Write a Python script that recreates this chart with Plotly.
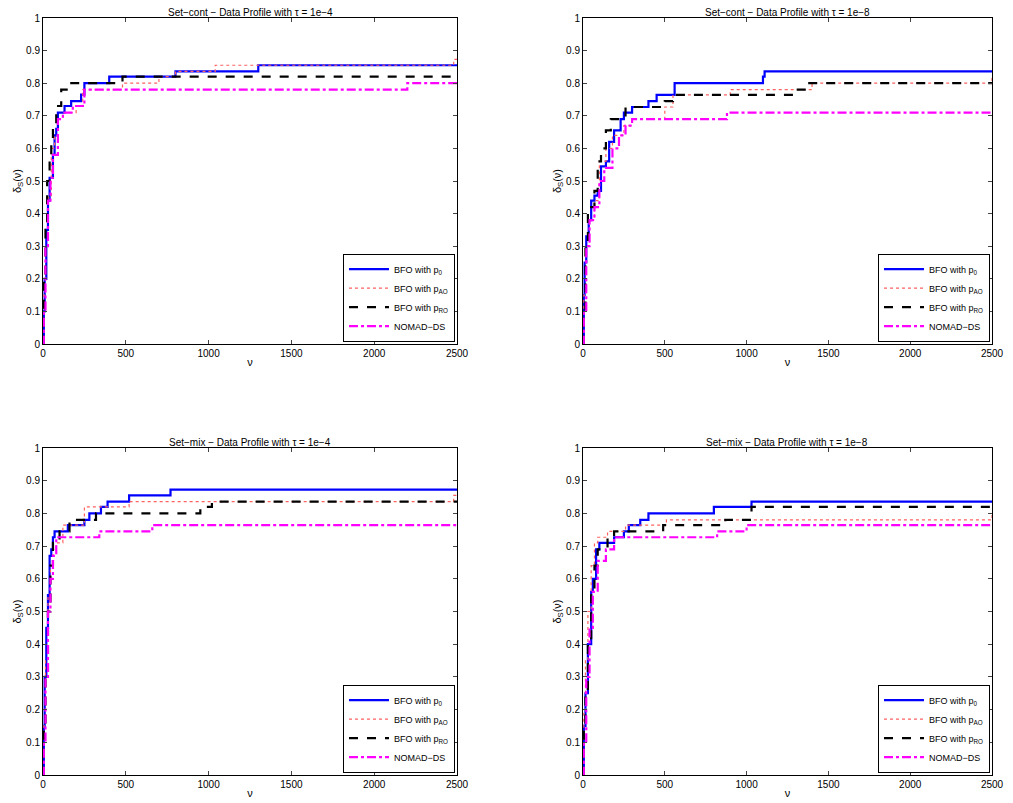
import plotly.graph_objects as go

# data profiles (x = budget nu, y = fraction solved)
cont4_p0_x = [0, 5, 10, 20, 30, 40, 50, 60, 70, 80, 90, 100, 130, 170, 200, 230, 250, 400, 800, 1300, 2500]
cont4_p0_y = [0, 0.1, 0.2, 0.35, 0.44, 0.51, 0.51, 0.58, 0.64, 0.66, 0.71, 0.71, 0.73, 0.745, 0.745, 0.765, 0.8, 0.82, 0.836, 0.855, 0.855]
cont4_pao_x = [0, 5, 15, 30, 50, 70, 90, 120, 200, 240, 480, 700, 800, 1040, 2480, 2500]
cont4_pao_y = [0, 0.15, 0.3, 0.45, 0.6, 0.64, 0.69, 0.71, 0.73, 0.78, 0.8, 0.82, 0.836, 0.855, 0.873, 0.873]
cont4_pro_x = [0, 5, 15, 25, 40, 50, 60, 80, 100, 110, 160, 480, 2500]
cont4_pro_y = [0, 0.2, 0.35, 0.5, 0.58, 0.62, 0.67, 0.73, 0.73, 0.78, 0.8, 0.82, 0.82]
cont4_nom_x = [0, 5, 15, 30, 45, 60, 90, 120, 180, 250, 2200, 2500]
cont4_nom_y = [0, 0.1, 0.3, 0.44, 0.51, 0.58, 0.69, 0.71, 0.73, 0.78, 0.8, 0.8]

cont8_p0_x = [0, 5, 10, 20, 35, 50, 70, 90, 110, 140, 160, 190, 230, 250, 300, 400, 450, 560, 1100, 1110, 2500]
cont8_p0_y = [0, 0.15, 0.25, 0.33, 0.38, 0.44, 0.455, 0.47, 0.545, 0.56, 0.62, 0.655, 0.69, 0.71, 0.727, 0.745, 0.764, 0.8, 0.82, 0.836, 0.836]
cont8_pao_x = [0, 5, 20, 40, 70, 100, 140, 180, 250, 300, 500, 550, 900, 1400, 2500]
cont8_pao_y = [0, 0.15, 0.3, 0.38, 0.44, 0.56, 0.6, 0.64, 0.67, 0.69, 0.727, 0.764, 0.78, 0.8, 0.82]
cont8_pro_x = [0, 5, 15, 30, 50, 70, 90, 110, 140, 170, 260, 500, 550, 1300, 1370, 2500]
cont8_pro_y = [0, 0.1, 0.3, 0.4, 0.42, 0.47, 0.56, 0.6, 0.655, 0.69, 0.727, 0.745, 0.764, 0.78, 0.8, 0.8]
cont8_nom_x = [0, 5, 20, 40, 70, 100, 130, 180, 220, 260, 300, 880, 2500]
cont8_nom_y = [0, 0.1, 0.3, 0.38, 0.42, 0.5, 0.54, 0.6, 0.64, 0.67, 0.69, 0.71, 0.71]

mix4_p0_x = [0, 5, 10, 20, 30, 40, 50, 60, 70, 150, 250, 280, 350, 390, 520, 770, 2500]
mix4_p0_y = [0, 0.15, 0.3, 0.45, 0.55, 0.67, 0.69, 0.727, 0.745, 0.764, 0.78, 0.8, 0.82, 0.836, 0.855, 0.873, 0.873]
mix4_pao_x = [0, 5, 15, 30, 45, 60, 80, 120, 250, 520, 2480, 2500]
mix4_pao_y = [0, 0.15, 0.35, 0.55, 0.64, 0.69, 0.71, 0.764, 0.82, 0.836, 0.855, 0.855]
mix4_pro_x = [0, 5, 15, 30, 45, 60, 100, 160, 250, 320, 950, 1020, 2500]
mix4_pro_y = [0, 0.15, 0.3, 0.5, 0.64, 0.71, 0.745, 0.78, 0.78, 0.8, 0.82, 0.836, 0.836]
mix4_nom_x = [0, 5, 15, 30, 45, 60, 80, 340, 660, 2500]
mix4_nom_y = [0, 0.1, 0.3, 0.5, 0.6, 0.67, 0.727, 0.745, 0.764, 0.764]

mix8_p0_x = [0, 5, 15, 30, 50, 60, 80, 100, 190, 250, 280, 350, 400, 800, 1030, 2500]
mix8_p0_y = [0, 0.15, 0.25, 0.4, 0.56, 0.6, 0.69, 0.71, 0.727, 0.745, 0.764, 0.78, 0.8, 0.82, 0.836, 0.836]
mix8_pao_x = [0, 5, 15, 30, 50, 70, 90, 150, 260, 510, 2500]
mix8_pao_y = [0, 0.2, 0.35, 0.5, 0.64, 0.71, 0.727, 0.745, 0.764, 0.78, 0.8]
mix8_pro_x = [0, 5, 15, 30, 50, 70, 90, 150, 190, 490, 870, 1030, 2500]
mix8_pro_y = [0, 0.15, 0.25, 0.4, 0.56, 0.64, 0.69, 0.727, 0.745, 0.764, 0.78, 0.82, 0.82]
mix8_nom_x = [0, 5, 20, 40, 60, 90, 140, 190, 820, 1000, 2500]
mix8_nom_y = [0, 0.1, 0.3, 0.45, 0.56, 0.655, 0.69, 0.727, 0.745, 0.764, 0.764]

names = ["BFO with p<sub>0</sub>", "BFO with p<sub>AO</sub>", "BFO with p<sub>RO</sub>", "NOMAD\u2212DS"]
styles = [("#0000ff", "solid", 2.2), ("#ff6060", "dot", 1.2), ("#000000", "dash", 2.2), ("#ff00ff", "dashdot", 2.2)]

panels = [
    ("Set\u2212cont \u2212 Data Profile with \u03c4 = 1e\u22124",
     [(cont4_p0_x, cont4_p0_y), (cont4_pao_x, cont4_pao_y), (cont4_pro_x, cont4_pro_y), (cont4_nom_x, cont4_nom_y)]),
    ("Set\u2212cont \u2212 Data Profile with \u03c4 = 1e\u22128",
     [(cont8_p0_x, cont8_p0_y), (cont8_pao_x, cont8_pao_y), (cont8_pro_x, cont8_pro_y), (cont8_nom_x, cont8_nom_y)]),
    ("Set\u2212mix \u2212 Data Profile with \u03c4 = 1e\u22124",
     [(mix4_p0_x, mix4_p0_y), (mix4_pao_x, mix4_pao_y), (mix4_pro_x, mix4_pro_y), (mix4_nom_x, mix4_nom_y)]),
    ("Set\u2212mix \u2212 Data Profile with \u03c4 = 1e\u22128",
     [(mix8_p0_x, mix8_p0_y), (mix8_pao_x, mix8_pao_y), (mix8_pro_x, mix8_pro_y), (mix8_nom_x, mix8_nom_y)]),
]

# the page body has an 8px margin, so the figure sits 8px in from the top-left
OFF = 8
W, H = 1013 - OFF, 803 - OFF
# right panel pulled in a few px so its last tick label stays on the page
xdoms = [((43 - OFF) / W, (457 - OFF) / W), ((583 - OFF) / W, (992 - OFF) / W)]
ydoms = [(1 - (344 - OFF) / H, 1 - (18 - OFF) / H), (1 - (775 - OFF) / H, 1 - (448 - OFF) / H)]
font = dict(family="Liberation Sans, Arial", size=10, color="black")

fig = go.Figure()
layout = dict(width=W, height=H, margin=dict(l=0, r=0, t=0, b=0, autoexpand=False),
              paper_bgcolor="white", plot_bgcolor="white", font=font, annotations=[])

for i, (title, series) in enumerate(panels):
    k = "" if i == 0 else str(i + 1)
    xd = xdoms[i % 2]
    yd = ydoms[i // 2]
    leg = "legend" + k
    for (sx, sy), nm, (col, dash, w) in zip(series, names, styles):
        fig.add_trace(go.Scatter(x=sx, y=sy, mode="lines", line_shape="hv", name=nm,
                                 line=dict(color=col, dash=dash, width=w),
                                 xaxis="x" + k, yaxis="y" + k, legend=leg))
    layout["xaxis" + k] = dict(
        domain=xd, range=[0, 2500], tickvals=[0, 500, 1000, 1500, 2000, 2500],
        ticks="inside", ticklen=4, mirror="ticks", showline=True, linecolor="black",
        linewidth=1, showgrid=False, zeroline=False, anchor="y" + k, tickfont=font,
        ticklabeloverflow="allow",
        automargin=False, title=dict(text="\u03bd", font=dict(size=11), standoff=0))
    layout["yaxis" + k] = dict(
        domain=yd, range=[0, 1], tickvals=[v / 10 for v in range(11)],
        ticktext=["0", "0.1", "0.2", "0.3", "0.4", "0.5", "0.6", "0.7", "0.8", "0.9", "1"],
        ticks="inside", ticklen=4, mirror="ticks", showline=True, linecolor="black",
        linewidth=1, showgrid=False, zeroline=False, anchor="x" + k, tickfont=font,
        automargin=False, title=dict(text="\u03b4<sub>S</sub>(\u03bd)", font=dict(size=11), standoff=2))
    layout[leg] = dict(x=xd[1] - 0.002, y=yd[0] + 0.003, xanchor="right", yanchor="bottom",
                       bordercolor="black", borderwidth=1, bgcolor="white",
                       font=dict(family="Liberation Sans, Arial", size=9), tracegroupgap=0,
                       itemwidth=40)
    layout["annotations"].append(dict(text=title, x=(xd[0] + xd[1]) / 2, y=yd[1], xref="paper",
                                      yref="paper", xanchor="center", yanchor="bottom",
                                      showarrow=False, font=dict(size=10), yshift=-2))

fig.update_layout(**layout)
fig.write_html("out.html")
